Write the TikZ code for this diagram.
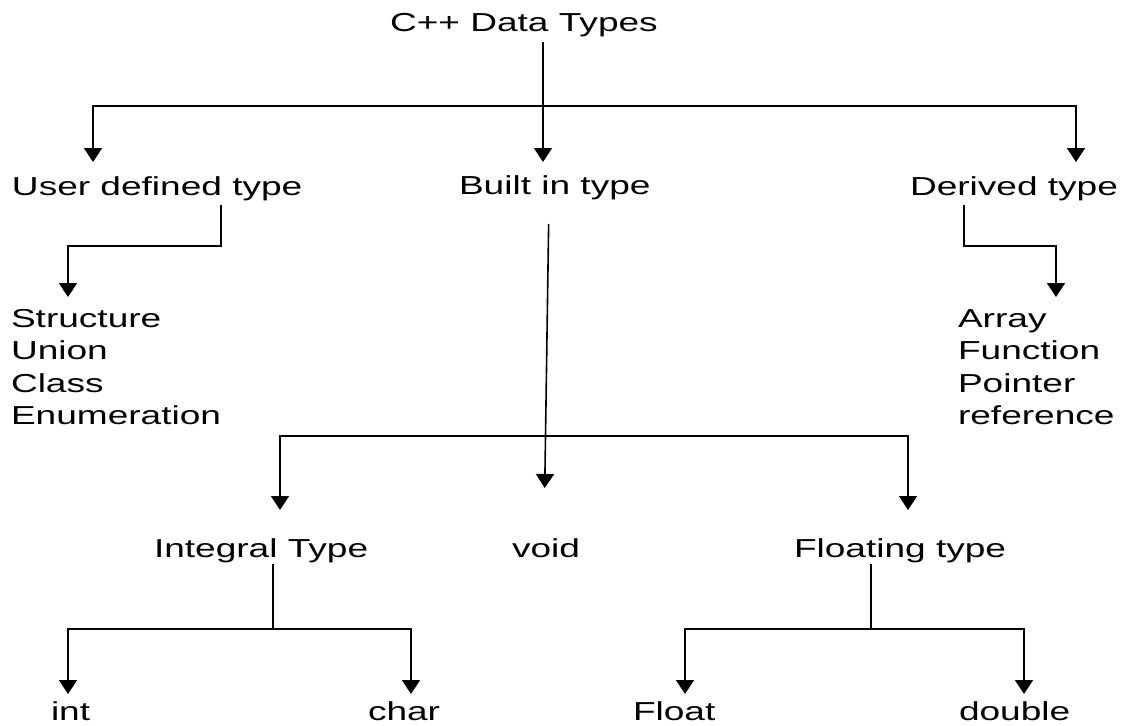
\documentclass[tikz,border=0pt]{standalone}
\usepackage{fontspec}
\setmainfont{Liberation Sans}[FakeStretch=1.425]
\usetikzlibrary{arrows.meta}
\begin{document}
\begin{tikzpicture}[x=1pt, y=1pt,
  lbl/.style={inner sep=0pt, outer sep=0pt, anchor=base west,
              text height=19pt, text depth=5.5pt,
              font=\fontsize{26pt}{32.5pt}\selectfont},
  leaf/.style={lbl, text depth=0pt},
  link/.style={line width=1.6pt, black},
  arr/.style={link, -{Triangle[width=18pt,length=14pt]}}]
\useasboundingbox (0,0) rectangle (1123,-725);

% ---- labels ----
\node[lbl] (root)     at (390,-32)  {C++ Data Types};
\node[lbl] (user)     at (12,-195)  {User defined type};
\node[lbl] (builtin)  at (459,-194) {Built in type};
\node[lbl] (derived)  at (910,-195) {Derived type};

\node[lbl] (s1) at (11,-327)   {Structure};
\node[lbl] (s2) at (11,-359.5) {Union};
\node[lbl] (s3) at (11,-392)   {Class};
\node[lbl] (s4) at (11,-424.5) {Enumeration};

\node[lbl] (d1) at (958,-327)   {Array};
\node[lbl] (d2) at (958,-359.5) {Function};
\node[lbl] (d3) at (958,-392)   {Pointer};
\node[lbl] (d4) at (958,-424.5) {reference};

\node[lbl] (integral) at (154,-557) {Integral Type};
\node[lbl] (void)     at (512,-557) {void};
\node[lbl] (floating) at (794,-557) {Floating type};

\node[leaf] (int)    at (51,-720)  {int};
\node[leaf] (char)   at (368,-720) {char};
\node[leaf] (float)  at (633,-720) {Float};
\node[leaf] (double) at (959,-720) {double};

% ---- columns and bus levels ----
\coordinate (cR)  at (543,0);
\coordinate (cU)  at (93,0);
\coordinate (cD)  at (1076,0);
\coordinate (cUd) at (221,0);
\coordinate (cUl) at (68,0);
\coordinate (cDd) at (964,0);
\coordinate (cDl) at (1056,0);
\coordinate (cBt) at (549,0);
\coordinate (cBb) at (544,0);
\coordinate (cB)  at (545,0);
\coordinate (cI)  at (280,0);
\coordinate (cF)  at (908,0);
\coordinate (cId) at (273,0);
\coordinate (cIa) at (68,0);
\coordinate (cIc) at (411,0);
\coordinate (cFd) at (871,0);
\coordinate (cFa) at (685,0);
\coordinate (cFb) at (1024,0);
\coordinate (bus1) at (0,-106);
\coordinate (bus2) at (0,-246);
\coordinate (bus3) at (0,-436);
\coordinate (bus4) at (0,-629);

% ---- first level ----
\draw[arr, shorten <=4.5pt, shorten >=13pt] (cR |- root.south) -- (cR |- builtin.north);
\draw[arr, shorten >=14pt] (cR |- bus1) -| (cU |- user.north);
\draw[arr, shorten >=14pt] (cR |- bus1) -| (cD |- derived.north);

% ---- user defined / derived lists ----
\draw[arr, shorten <=4.5pt, shorten >=11pt]
  (cUd |- user.south) |- (cUl |- bus2) -- (cUl |- s1.north);
\draw[arr, shorten <=4.5pt, shorten >=11pt]
  (cDd |- derived.south) |- (cDl |- bus2) -- (cDl |- d1.north);

% ---- built in type ----
\draw[arr, shorten <=24.5pt, shorten >=50pt] (cBt |- builtin.south) -- (cBb |- void.north);
\draw[arr, shorten >=28pt] (cB |- bus3) -| (cI |- integral.north);
\draw[arr, shorten >=28pt] (cB |- bus3) -| (cF |- floating.north);

% ---- integral type ----
\draw[arr, shorten <=1.5pt, shorten >=7pt]
  (cId |- integral.south) |- (cIa |- bus4) -- (cIa |- int.north);
\draw[arr, shorten >=7pt] (cId |- bus4) -| (cIc |- char.north);

% ---- floating type ----
\draw[arr, shorten <=1.5pt, shorten >=7pt]
  (cFd |- floating.south) |- (cFa |- bus4) -- (cFa |- float.north);
\draw[arr, shorten >=7pt] (cFd |- bus4) -| (cFb |- double.north);
\end{tikzpicture}
\end{document}
